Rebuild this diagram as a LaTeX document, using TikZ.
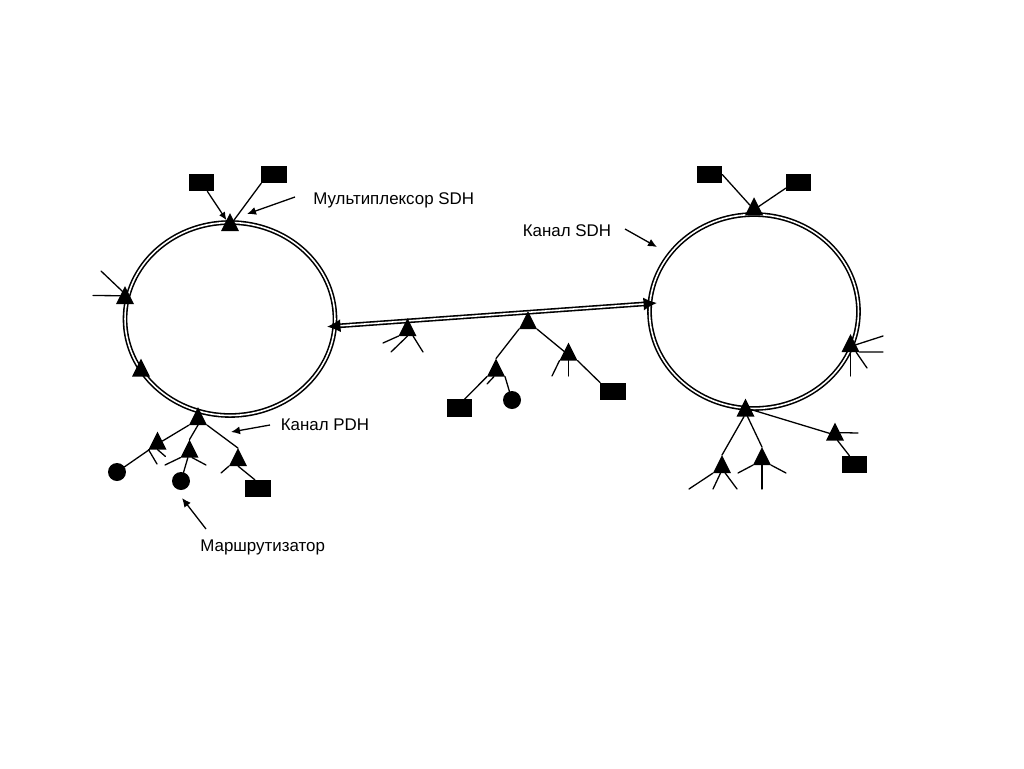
\documentclass[tikz,border=0pt]{standalone}
\usepackage{fontspec}
\setmainfont{Liberation Sans}
\usetikzlibrary{shapes.geometric,arrows.meta}
\tikzset{
    ring/.style = {draw, ellipse, line width=0.9pt, double, double distance=0.9pt, inner sep=0},
    link/.style = {line width=0.9pt, double, double distance=0.9pt, {Latex[length=2.7mm,width=2.6mm]}-{Latex[length=2.7mm,width=2.6mm]}},
    mux/.style = {fill=black, isosceles triangle, isosceles triangle apex angle=53, isosceles triangle stretches, shape border rotate=90, minimum width=3.6mm, minimum height=3.6mm, inner sep=0, outer sep=0, yshift=-0.6mm},
    box/.style = {fill=black, rectangle, minimum width=5.1mm, minimum height=3.5mm, inner sep=0, outer sep=0},
    router/.style = {fill=black, circle, minimum size=3.6mm, inner sep=0, outer sep=0},
    wire/.style = {line width=0.74pt, line cap=round},
    pointer/.style = {line width=0.74pt, -{Latex[length=1.8mm,width=1.6mm]}},
    caption/.style = {anchor=base west, inner sep=0, font=\fontsize{9.62}{11}\selectfont}
}
\begin{document}
\begin{tikzpicture}[x=0.02cm, y=-0.02cm]
    \useasboundingbox (0,0) rectangle (1024,768);
    % rings and the link between them
    \node(ringA)[ring, minimum width=4.2cm, minimum height=3.86cm] at (230,319){};
    \node(ringB)[ring, minimum width=4.18cm, minimum height=3.88cm] at (754,311.5){};
    \coordinate(linkA) at (327,326.7);
    \coordinate(linkB) at (657,303);
    \draw[link] (linkA)--(linkB);
    %
    \path
    (230,222.5)node(a1)[mux]{}
    (125,295.5)node(a2)[mux]{}
    (141,368)node(a3)[mux]{}
    (198,416.5)node(a4)[mux]{}
    (157.5,441)node(a5)[mux]{}
    (189.5,449)node(a6)[mux]{}
    (238,457.5)node(a7)[mux]{}
    (407.5,327.5)node(c1)[mux]{}
    (528,320.5)node(c2)[mux]{}
    (568.5,352)node(c3)[mux]{}
    (496,368)node(c4)[mux]{}
    (754,206.7)node(b1)[mux]{}
    (850.5,343.5)node(b2)[mux]{}
    (745.5,408)node(b3)[mux]{}
    (722,464.5)node(b4)[mux]{}
    (762,456.5)node(b5)[mux]{}
    (835,432)node(b6)[mux]{};
    %
    \path
    (201.5,182.5)node(boxA1)[box]{}
    (274,174.5)node(boxA2)[box]{}
    (258,488.5)node(boxA3)[box]{}
    (459.5,408)node(boxC1)[box]{}
    (613,391.5)node(boxC2)[box]{}
    (709.5,174.5)node(boxB1)[box]{}
    (798.5,182.5)node(boxB2)[box]{}
    (854.5,464.5)node(boxB3)[box]{}
    (117,472)node(routerA1)[router]{}
    (181,481)node(routerA2)[router]{}
    (512,400)node(routerC1)[router]{};
    %
    \coordinate(endA1) at (101,271);
    \coordinate(endA2) at (93,295.5);
    \coordinate(endA3) at (157,464);
    \coordinate(endA4) at (165.5,456.5);
    \coordinate(endA5) at (165,465);
    \coordinate(endA6) at (206,465);
    \coordinate(endA7) at (221,473);
    \coordinate(endC1) at (383,343);
    \coordinate(endC2) at (391,352);
    \coordinate(endC3) at (423,352);
    \coordinate(endC4) at (552,376);
    \coordinate(endC5) at (568.5,376);
    \coordinate(endC6) at (487,384);
    \coordinate(endB1) at (883,336);
    \coordinate(endB2) at (883,352);
    \coordinate(endB3) at (867,368);
    \coordinate(endB4) at (850.5,376);
    \coordinate(endB5) at (858,433);
    \coordinate(endB6) at (689,489);
    \coordinate(endB7) at (713,489);
    \coordinate(endB8) at (737,489);
    \coordinate(endB9) at (738,473);
    \coordinate(endB10) at (786,473);
    \coordinate(endB11) at (762,489);
    %
    \draw[wire, -{Latex[length=1.6mm,width=1.4mm]}] (boxA1)--(a1);
    \draw[wire] (boxA2.south west)--(a1);
    \draw[wire] (endA1)--(a2.110);
    \draw[wire] (endA2)--(a2.150);
    \draw[wire] (a4.left corner)--(a5);
    \draw[wire] (a4.-90)--(a6.apex);
    \draw[wire] (a4.right corner)--(a7.apex);
    \draw[wire] (a5)--(routerA1);
    \draw[wire] (a5.left corner)--(endA3);
    \draw[wire] (a5.-90)--(endA4);
    \draw[wire] (a6.left corner)--(endA5);
    \draw[wire] (a6.-65)--(endA6);
    \draw[wire] (a6)--(routerA2);
    \draw[wire] (a7.left corner)--(endA7);
    \draw[wire] (a7.-90)--(boxA3.110);
    %
    \draw[wire] (c1.left corner)--(endC1);
    \draw[wire] (c1.-90)--(endC2);
    \draw[wire] (c1.-45)--(endC3);
    \draw[wire] (c2.left corner)--(c4.apex);
    \draw[wire] (c2.right corner)--(c3);
    \draw[wire] (c3.left corner)--(endC4);
    \draw[wire] (c3.-90)--(endC5);
    \draw[wire] (c3.right corner)--(boxC2.north west);
    \draw[wire] (c4.left corner)--(boxC1.60);
    \draw[wire] (c4.right corner)--(routerC1);
    \draw[wire] (c4.250)--(endC6);
    %
    \draw[wire] (boxB1.east)--(b1);
    \draw[wire] (boxB2.204)--(b1);
    \draw[wire] (b2)--(endB1);
    \draw[wire] (b2.right corner)--(endB2);
    \draw[wire] (b2.-45)--(endB3);
    \draw[wire] (b2.-90)--(endB4);
    \draw[wire] (b3.-105)--(b4.apex);
    \draw[wire] (b3.-70)--(b5.apex);
    \draw[wire] (b3.15)--(b6);
    \draw[wire] (b6.25)--(endB5);
    \draw[wire] (b6.-65)--(boxB3.120);
    \draw[wire] (b4.left corner)--(endB6);
    \draw[wire] (b4.-105)--(endB7);
    \draw[wire] (b4.-60)--(endB8);
    \draw[wire] (b5.left corner)--(endB9);
    \draw[wire] (b5.right corner)--(endB10);
    \draw[wire] (b5.-90)--(endB11);
    %
    \node(labelMux)[caption] at (313,204){Мультиплексор SDH};
    \node(labelPdh)[caption] at (280.5,430){Канал PDH};
    \node(labelRouter)[caption] at (200,551){Маршрутизатор};
    \node(labelSdh)[caption] at (522.5,236){Канал SDH};
    %
    \coordinate(fromMux) at (295,197);
    \coordinate(toMux) at (247,214);
    \coordinate(fromPdh) at (270,425);
    \coordinate(toPdh) at (231,432);
    \coordinate(fromRouter) at (206,529);
    \coordinate(toRouter) at (182,498);
    \coordinate(fromSdh) at (625,229);
    \coordinate(toSdh) at (657,247);
    \draw[pointer] (fromMux)--(toMux);
    \draw[pointer] (fromPdh)--(toPdh);
    \draw[pointer] (fromRouter)--(toRouter);
    \draw[pointer] (fromSdh)--(toSdh);
\end{tikzpicture}
\end{document}
